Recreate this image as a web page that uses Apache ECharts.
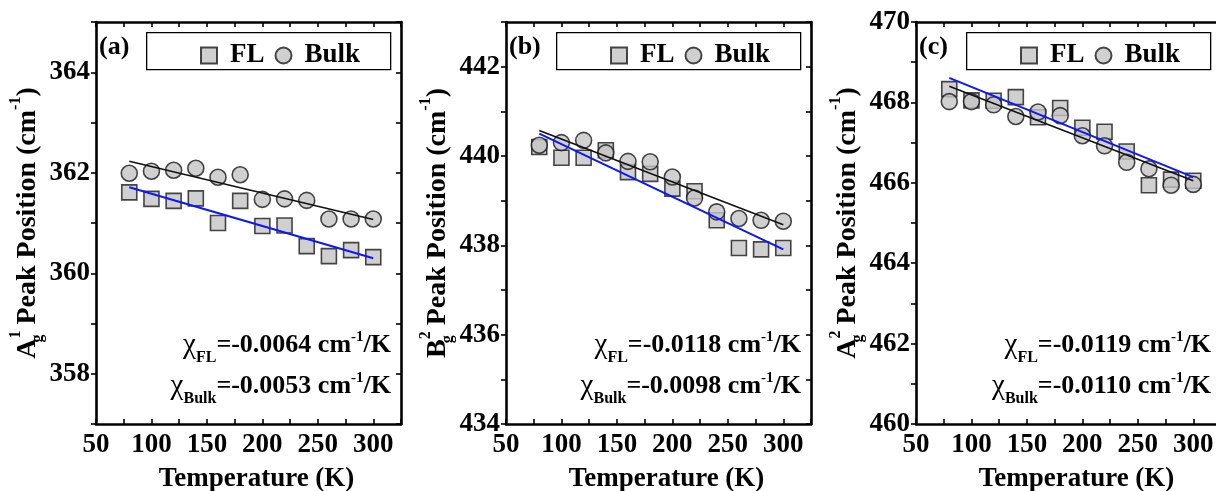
<!DOCTYPE html>
<html>
<head>
<meta charset="utf-8">
<script src="https://cdn.jsdelivr.net/npm/echarts@6/dist/echarts.min.js"></script>
<style>
html,body{margin:0;padding:0;background:#fff;}
#chart{width:1216px;height:491px;}
</style>
</head>
<body>
<div id="chart"></div>
<script>
// ---------------- data ----------------
const temps = [80, 100, 120, 140, 160, 180, 200, 220, 240, 260, 280, 300];

const flA   = [361.61, 361.48, 361.44, 361.49, 361.00, 361.44, 360.94, 360.95, 360.54, 360.34, 360.46, 360.32];
const bulkA = [361.99, 362.03, 362.05, 362.09, 361.91, 361.96, 361.47, 361.48, 361.45, 361.08, 361.08, 361.08];

const flB   = [440.20, 439.96, 439.96, 440.13, 439.64, 439.60, 439.27, 439.21, 438.56, 437.94, 437.91, 437.94];
const bulkB = [440.24, 440.30, 440.35, 440.07, 439.88, 439.87, 439.53, 439.06, 438.75, 438.60, 438.56, 438.54];

const flC   = [468.33, 468.05, 468.04, 468.13, 467.63, 467.86, 467.37, 467.27, 466.78, 465.94, 466.08, 466.05];
const bulkC = [468.02, 468.02, 467.94, 467.65, 467.76, 467.67, 467.17, 466.92, 466.51, 466.35, 465.94, 465.96];

// linear fit lines (end points)
const fitT     = [80, 300];
const fitFlA   = [361.71, 360.30];
const fitBulkA = [362.23, 361.07];
const fitFlB   = [440.50, 437.91];
const fitBulkB = [440.57, 438.46];
const fitFlC   = [468.61, 466.14];
const fitBulkC = [468.40, 466.05];

// axes ranges
const xRange  = [50, 325];
const yRangeA = [357, 365];
const yRangeB = [434, 443];
const yRangeC = [460, 470];

// texts
const panelLabels = ['(a)', '(b)', '(c)'];
const yLetters    = [['A', '1'], ['B', '2'], ['A', '2']];
const slopesFL    = ['-0.0064', '-0.0118', '-0.0119'];
const slopesBulk  = ['-0.0053', '-0.0098', '-0.0110'];
const xTitle      = 'Temperature (K)';
const seriesNames = ['FL', 'Bulk'];

// ---------------- layout ----------------
const FONT = '"Liberation Serif","Times New Roman",serif';
const grids = [
  {left: 96,  top: 22, width: 305, height: 402, outerBoundsMode: 'none', containLabel: false},
  {left: 506, top: 22, width: 305, height: 402, outerBoundsMode: 'none', containLabel: false},
  {left: 916, top: 22, width: 305, height: 402, outerBoundsMode: 'none', containLabel: false}
];
const panels = [
  {fl: flA, bulk: bulkA, fitFl: fitFlA, fitBulk: fitBulkA, yr: yRangeA},
  {fl: flB, bulk: bulkB, fitFl: fitFlB, fitBulk: fitBulkB, yr: yRangeB},
  {fl: flC, bulk: bulkC, fitFl: fitFlC, fitBulk: fitBulkC, yr: yRangeC}
];

const zip = (xs, ys) => xs.map((x, i) => [x, ys[i]]);
const AXLINE = {lineStyle: {color: '#000', width: 2.6}};
const labelStyle = {fontFamily: FONT, fontWeight: 'bold', fontSize: 27, color: '#000'};

const xAxis = [], yAxis = [], series = [], legend = [], graphic = [];

panels.forEach((p, i) => {
  const g = grids[i];
  // bottom x
  xAxis.push({
    gridIndex: i, type: 'value', position: 'bottom', min: xRange[0], max: xRange[1], interval: 25,
    axisLine: AXLINE, splitLine: {show: false},
    axisTick: {inside: true, length: 5, lineStyle: {width: 1.6, color: '#000'}},
    axisLabel: Object.assign({margin: 8, showMaxLabel: true, showMinLabel: true,
      formatter: v => (v % 50 === 0 ? String(v) : '')}, labelStyle),
    name: xTitle, nameLocation: 'middle', nameGap: 42,
    nameTextStyle: {fontFamily: FONT, fontWeight: 'bold', fontSize: 27, color: '#000', padding: [0, 0, 0, 16]}
  });
  // top x
  xAxis.push({
    gridIndex: i, type: 'value', position: 'top', min: xRange[0], max: xRange[1], interval: 25,
    axisLine: AXLINE, splitLine: {show: false},
    axisTick: {inside: true, length: 5, lineStyle: {width: 1.6, color: '#000'}},
    axisLabel: {show: false}
  });
  // left y
  yAxis.push({
    gridIndex: i, type: 'value', position: 'left', min: p.yr[0], max: p.yr[1], interval: 1,
    axisLine: AXLINE, splitLine: {show: false},
    axisTick: {inside: false, length: 5, lineStyle: {width: 1.6, color: '#000'}},
    axisLabel: Object.assign({margin: 6, showMaxLabel: true, showMinLabel: true,
      formatter: v => (v % 2 === 0 ? String(v) : '')}, labelStyle),
    name: '{m|' + yLetters[i][0] + '}{sub|g}{sup|' + yLetters[i][1] + '}{m|Peak Position (cm}{sup2|-1}{m|)}',
    nameLocation: 'middle', nameRotate: 90, nameGap: 47,
    nameTextStyle: {
      fontFamily: FONT, fontWeight: 'bold', fontSize: 27, color: '#000',
      rich: {
        m:    {fontFamily: FONT, fontWeight: 'bold', fontSize: 28, color: '#000', lineHeight: 34, verticalAlign: 'bottom'},
        sub:  {fontFamily: FONT, fontWeight: 'bold', fontSize: 16, color: '#000', width: 0, verticalAlign: 'bottom', lineHeight: 34, padding: [0, 0, -4, 0]},
        sup:  {fontFamily: FONT, fontWeight: 'bold', fontSize: 16, color: '#000', verticalAlign: 'top', lineHeight: 34, padding: [0, 6, 0, 0]},
        sup2: {fontFamily: FONT, fontWeight: 'bold', fontSize: 16, color: '#000', verticalAlign: 'top', lineHeight: 34}
      }
    }
  });
  // right y
  yAxis.push({
    gridIndex: i, type: 'value', position: 'right', min: p.yr[0], max: p.yr[1], interval: 1,
    axisLine: AXLINE, splitLine: {show: false},
    axisTick: {inside: true, length: 5, lineStyle: {width: 1.6, color: '#000'}},
    axisLabel: {show: false}
  });

  const mark = {color: '#c4c4c4', borderColor: '#1a1a1a', borderWidth: 1.6};
  series.push({
    type: 'scatter', name: 'FL', xAxisIndex: i * 2, yAxisIndex: i * 2,
    data: zip(temps, p.fl), symbol: 'rect', symbolSize: 15, itemStyle: mark, z: 2
  });
  series.push({
    type: 'scatter', name: 'Bulk', xAxisIndex: i * 2, yAxisIndex: i * 2,
    data: zip(temps, p.bulk), symbol: 'circle', symbolSize: 16, itemStyle: mark, z: 3
  });
  series.push({
    type: 'line', name: 'Bulk fit', xAxisIndex: i * 2, yAxisIndex: i * 2,
    data: zip(fitT, p.fitBulk), symbol: 'none', lineStyle: {color: '#111', width: 1.6}, z: 4
  });
  series.push({
    type: 'line', name: 'FL fit', xAxisIndex: i * 2, yAxisIndex: i * 2,
    data: zip(fitT, p.fitFl), symbol: 'none', lineStyle: {color: '#0b16ff', width: 2}, z: 5
  });

  legend.push({
    data: [{name: seriesNames[0], icon: 'rect'}, {name: seriesNames[1], icon: 'circle'}],
    left: g.left + 104, top: 42, padding: 0, itemWidth: 16, itemHeight: 16, itemGap: 10,
    selectedMode: false,
    textStyle: {fontFamily: FONT, fontWeight: 'bold', fontSize: 27, color: '#000', padding: [0, 0, 0, 8]}
  });

  // legend frame
  graphic.push({
    type: 'rect', left: g.left + 50, top: 32, z: 1,
    shape: {width: 244, height: 37},
    style: {fill: '#fff', stroke: '#000', lineWidth: 1.3}
  });
  // panel label
  graphic.push({
    type: 'text', left: g.left + 3, top: 34, z: 10,
    style: {text: panelLabels[i], fontFamily: FONT, fontWeight: 'bold', fontSize: 26, fill: '#000'}
  });
  // slope annotations
  const rich = {
    m:   {fontFamily: FONT, fontWeight: 'bold', fontSize: 26, fill: '#000', lineHeight: 30},
    chi: {fontFamily: FONT, fontWeight: 'normal', fontSize: 29, fill: '#000', lineHeight: 30},
    sub: {fontFamily: FONT, fontWeight: 'bold', fontSize: 16, fill: '#000', lineHeight: 30, verticalAlign: 'bottom', padding: [0, 0, -6, 0]},
    sup: {fontFamily: FONT, fontWeight: 'bold', fontSize: 15, fill: '#000', lineHeight: 30, verticalAlign: 'top'}
  };
  graphic.push({
    type: 'text', x: g.left + g.width - 10, y: 345, z: 10,
    style: {text: '{chi|χ}{sub|FL}{m|=' + slopesFL[i] + ' cm}{sup|-1}{m|/K}', rich: rich, align: 'right', verticalAlign: 'middle'}
  });
  graphic.push({
    type: 'text', x: g.left + g.width - 10, y: 386, z: 10,
    style: {text: '{chi|χ}{sub|Bulk}{m|=' + slopesBulk[i] + ' cm}{sup|-1}{m|/K}', rich: rich, align: 'right', verticalAlign: 'middle'}
  });
});

const chart = echarts.init(document.getElementById('chart'), null, {renderer: 'canvas'});
chart.setOption({
  animation: false,
  backgroundColor: '#fff',
  grid: grids,
  xAxis: xAxis,
  yAxis: yAxis,
  legend: legend,
  series: series,
  graphic: graphic
});
</script>
</body>
</html>
